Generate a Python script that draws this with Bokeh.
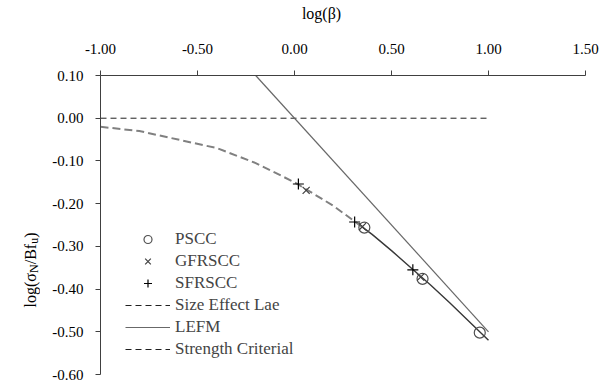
import math
from bokeh.plotting import figure
from bokeh.layouts import row, column
from bokeh.models import FixedTicker, Legend, LegendItem, Range1d
from bokeh.core.properties import value
from bokeh.embed import file_html
from bokeh.resources import INLINE

# ---------------- data ----------------
x_ticks = [-1.0, -0.5, 0.0, 0.5, 1.0, 1.5]
x_tick_labels = ["-1.00", "-0.50", "0.00", "0.50", "1.00", "1.50"]
y_ticks = [-0.6, -0.5, -0.4, -0.3, -0.2, -0.1, 0.0, 0.1]
y_tick_labels = ["-0.60", "-0.50", "-0.40", "-0.30", "-0.20", "-0.10", "0.00", "0.10"]

# size effect law curve (sparse part, drawn dashed)
sel_x_a = [-1.0, -0.8, -0.6, -0.4, -0.2, 0.0, 0.2, 0.35]
sel_y_a = [-0.02, -0.03, -0.05, -0.07, -0.105, -0.15, -0.205, -0.255]
# size effect law curve (dense part, looks solid)
sel_x_b = [0.35, 0.4, 0.5, 0.6, 0.7, 0.8, 0.9, 1.0]
sel_y_b = [-0.255, -0.272, -0.31, -0.35, -0.39, -0.432, -0.476, -0.52]

lefm_x = [-0.2, 1.0]
lefm_y = [0.1, -0.5]

strength_x = [-1.0, 1.0]
strength_y = [0.0, 0.0]

pscc_x = [0.36, 0.66, 0.955]
pscc_y = [-0.256, -0.376, -0.502]
gfrscc_x = [0.06, 0.35, 0.65]
gfrscc_y = [-0.169, -0.254, -0.372]
sfrscc_x = [0.02, 0.31, 0.61]
sfrscc_y = [-0.154, -0.243, -0.355]

x_title = "log(β)"
y_title_parts = ["log(σ", "N", "/Bf", "u", ")"]

# ---------------- layout ----------------
FONT = "Liberation Serif"
LW = 40                      # width of the y-title strip
TH = 26                      # height of the x-title strip
TOTAL_W, TOTAL_H = 613, 388
FL, FT, FW, FH = 100, 75, 485, 299   # frame left/top/width/height in page px
ML = FL - LW
MT = FT - TH
MR = TOTAL_W - FL - FW
MB = TOTAL_H - FT - FH
X0, X1, Y0, Y1 = -1.0, 1.5, -0.6, 0.1


def strip(w, h):
    f = figure(frame_width=w, frame_height=h,
               x_range=Range1d(0, w), y_range=Range1d(0, h),
               x_axis_location=None, y_axis_location=None,
               output_backend="svg", toolbar_location=None,
               min_border_left=0, min_border_right=0,
               min_border_top=0, min_border_bottom=0)
    f.outline_line_color = None
    f.grid.visible = False
    return f


p = figure(frame_width=FW, frame_height=FH,
           x_range=Range1d(X0, X1), y_range=Range1d(Y0, Y1),
           x_axis_location="above",
           output_backend="svg", toolbar_location=None,
           min_border_left=ML, min_border_top=MT,
           min_border_right=MR, min_border_bottom=MB)
p.outline_line_color = None
p.xgrid.visible = False
p.ygrid.visible = False

for ax, ticks, labels, so in ((p.xaxis[0], x_ticks, x_tick_labels, 17),
                              (p.yaxis[0], y_ticks, y_tick_labels, 12)):
    ax.ticker = FixedTicker(ticks=ticks)
    ax.major_label_overrides = {t: l for t, l in zip(ticks, labels)}
    ax.axis_line_color = "#404040"
    ax.major_tick_line_color = "#404040"
    ax.major_tick_out = 5
    ax.major_tick_in = 0
    ax.minor_tick_line_color = None
    ax.major_label_text_font = FONT
    ax.major_label_text_font_size = "15px"
    ax.major_label_text_color = "black"
    ax.major_label_standoff = so

# ---------------- series ----------------
r_strength = p.line(strength_x, strength_y, line_color="#202020", line_width=1,
                    line_dash="6 4")
r_lefm = p.line(lefm_x, lefm_y, line_color="#686868", line_width=1.2)
r_sel = p.line(sel_x_a, sel_y_a, line_color="#808080", line_width=2, line_dash="8 4")
p.line(sel_x_b, sel_y_b, line_color="#383838", line_width=1.4)

r_p = p.scatter(pscc_x, pscc_y, marker="circle", size=11, fill_color=None,
                line_color="#505050", line_width=1.2)
r_g = p.scatter(gfrscc_x, gfrscc_y, marker="x", size=10, line_color="#404040",
                line_width=1.2)
r_s = p.scatter(sfrscc_x, sfrscc_y, marker="cross", size=11, line_color="black",
                line_width=1.2)

legend = Legend(items=[
    LegendItem(label="PSCC", renderers=[r_p]),
    LegendItem(label="GFRSCC", renderers=[r_g]),
    LegendItem(label="SFRSCC", renderers=[r_s]),
    LegendItem(label="Size Effect Lae", renderers=[r_strength]),
    LegendItem(label="LEFM", renderers=[r_lefm]),
    LegendItem(label="Strength Criterial", renderers=[r_strength]),
], location=(25, 15), label_text_font=FONT, label_text_font_size="17px",
    glyph_width=45, glyph_height=20, label_height=20, spacing=2, padding=0,
    margin=0, border_line_color=None, background_fill_alpha=0, label_standoff=5)
p.add_layout(legend)

# ---------------- x title strip ----------------
t = strip(TOTAL_W, TH)
t.text(x=[321], y=[TH - 13], text=[x_title], text_font=value(FONT),
       text_font_size=value("16px"), text_align="center", text_baseline="middle",
       text_color="black")

# ---------------- y title strip (rotated, with subscripts) ----------------
BH = TOTAL_H - TH
q = strip(LW, BH)
sizes = [16, 12, 16, 12, 16]
shifts = [0, 3, 0, 3, 0]
ems = [2.16, 0.722, 1.278, 0.5, 0.333]
ypos = 258.0 - TH
base_x = 30.0
for txt, fs, sh, em in zip(y_title_parts, sizes, shifts, ems):
    q.text(x=[base_x + sh], y=[BH - ypos], text=[txt], angle=math.pi / 2,
           text_font=value(FONT), text_font_size=value(f"{fs}px"),
           text_align="left", text_baseline="alphabetic", text_color="black")
    ypos -= em * fs

layout = column(t, row(q, p, spacing=0), spacing=0)
open("out.html", "w").write(file_html(layout, INLINE))
